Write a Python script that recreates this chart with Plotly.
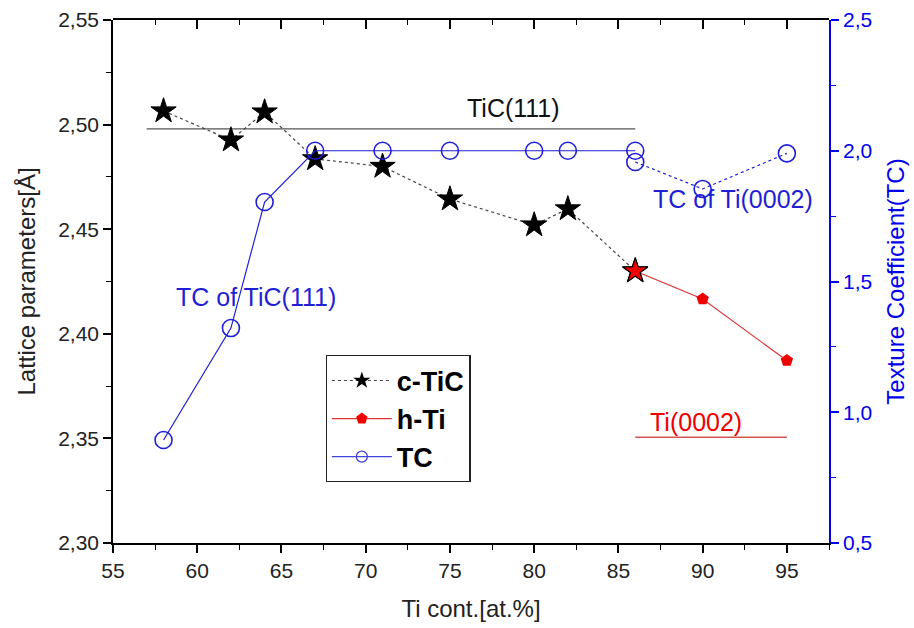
import plotly.graph_objects as go

# ---- data ----
ctic_x = [58, 62, 64, 67, 71, 75, 80, 82, 86]
ctic_y = [2.5065, 2.4926, 2.506, 2.4836, 2.480, 2.4644, 2.452, 2.4597, 2.430]

hti_x = [86, 90, 95]
hti_y = [2.430, 2.4166, 2.3872]

tc1_x = [58, 62, 64, 67, 71, 75, 80, 82, 86]
tc1_y = [0.894, 1.322, 1.804, 2.0, 2.0, 2.0, 2.0, 2.0, 2.0]

tc2_x = [86, 90, 95]
tc2_y = [1.957, 1.854, 1.99]

tic111_x = [57, 86]
tic111_y = [2.498, 2.498]
ti0002_x = [86, 95]
ti0002_y = [2.3505, 2.3505]

x_ticks = [55, 60, 65, 70, 75, 80, 85, 90, 95]

FONT = "Liberation Sans, Arial, sans-serif"
BLUE = "#1f1fd6"
AXBLUE = "#0000ee"
RED = "#ee0000"

fig = go.Figure()

# invisible traces to activate the top-axis subplots (major and minor top ticks)
fig.add_trace(go.Scatter(x=[55, 97.5], y=[0, 1], xaxis="x3", yaxis="y3", mode="markers",
                         marker=dict(opacity=0), showlegend=False, hoverinfo="skip"))
fig.add_trace(go.Scatter(x=[55, 97.5], y=[0, 1], xaxis="x4", yaxis="y4", mode="markers",
                         marker=dict(opacity=0), showlegend=False, hoverinfo="skip"))

fig.add_trace(go.Scatter(x=tic111_x, y=tic111_y, mode="lines",
                         line=dict(color="#555555", width=1.2), showlegend=False, hoverinfo="skip"))
fig.add_trace(go.Scatter(x=ti0002_x, y=ti0002_y, mode="lines",
                         line=dict(color="#d9534f", width=1.5), showlegend=False, hoverinfo="skip"))

fig.add_trace(go.Scatter(x=tc2_x, y=tc2_y, yaxis="y2", mode="lines+markers",
                         line=dict(color=BLUE, width=1.2, dash="dot"),
                         marker=dict(symbol="circle-open", size=17, color=BLUE, line=dict(width=1.6)),
                         showlegend=False))

fig.add_trace(go.Scatter(x=ctic_x, y=ctic_y, mode="lines+markers", name="c-TiC", showlegend=False,
                         line=dict(color="#444444", width=1.2, dash="dot"),
                         marker=dict(symbol="star", size=19,
                                     color=["black"] * (len(ctic_x) - 1) + [RED],
                                     line=dict(color="black", width=1))))
fig.add_trace(go.Scatter(x=hti_x, y=hti_y, mode="lines+markers", name="h-Ti", showlegend=False,
                         line=dict(color="#dd3333", width=1.2),
                         marker=dict(symbol="pentagon", size=13, color=RED, line=dict(width=0))))
fig.add_trace(go.Scatter(x=[ctic_x[-1]], y=[ctic_y[-1]], mode="markers", showlegend=False,
                         marker=dict(symbol="star", size=19, color=RED, line=dict(color="black", width=1.2)),
                         hoverinfo="skip"))
fig.add_trace(go.Scatter(x=tc1_x, y=tc1_y, yaxis="y2", mode="lines+markers", name="TC", showlegend=False,
                         line=dict(color=BLUE, width=1.2),
                         marker=dict(symbol="circle-open", size=17, color=BLUE, line=dict(width=1.6))))

fig.add_trace(go.Scatter(x=[None], y=[None], mode="lines+markers", name="c-TiC",
                         line=dict(color="#444444", width=1.2, dash="dot"),
                         marker=dict(symbol="star", size=13, color="black")))
fig.add_trace(go.Scatter(x=[None], y=[None], mode="lines+markers", name="h-Ti",
                         line=dict(color="#dd3333", width=1.2),
                         marker=dict(symbol="pentagon", size=12, color=RED)))
fig.add_trace(go.Scatter(x=[None], y=[None], mode="lines+markers", name="TC",
                         line=dict(color="#4444dd", width=1.2),
                         marker=dict(symbol="circle-open", size=11, color="#4444dd", line=dict(width=1.3))))

tickfont = dict(family=FONT, size=21, color="#222222")
hidden_y = dict(range=[0, 1], domain=[0, 1], showticklabels=False, showline=False,
                showgrid=False, zeroline=False, ticks="", automargin=False)

fig.update_layout(
    width=914, height=628,
    margin=dict(l=113, r=85, t=20, b=85, autoexpand=False),
    paper_bgcolor="white", plot_bgcolor="rgba(0,0,0,0)",
    separators=", ",
    font=dict(family=FONT, color="#222222"),
    xaxis=dict(range=[55, 97.5], tickvals=x_ticks, ticks="outside", ticklen=8, tickwidth=1.5,
               tickcolor="black", automargin=False,
               showline=True, linecolor="black", linewidth=1.5, showgrid=False, zeroline=False,
               tickfont=tickfont,
               minor=dict(dtick=2.5, tick0=55, ticks="outside", ticklen=5, tickwidth=1.2, tickcolor="black"),
               title=dict(text="Ti cont.[at.%]", font=dict(family=FONT, size=24, color="#222222"), standoff=19)),
    xaxis3=dict(range=[55, 97.5], tickmode="linear", tick0=55, dtick=5, ticks="inside", ticklen=9, tickwidth=1.5,
                tickcolor="black", anchor="y3", side="top", automargin=False,
                showline=True, linecolor="black", linewidth=1.5,
                showticklabels=False, showgrid=False, zeroline=False),
    xaxis4=dict(range=[55, 97.5], tickmode="linear", tick0=57.5, dtick=5, ticks="inside", ticklen=5, tickwidth=1.2,
                tickcolor="black", anchor="y4", side="top", automargin=False,
                showline=False, showticklabels=False, showgrid=False, zeroline=False),
    yaxis3=dict(anchor="x3", **hidden_y),
    yaxis4=dict(anchor="x4", **hidden_y),
    yaxis=dict(range=[2.30, 2.55], dtick=0.05, tickformat=".2f", ticks="outside", ticklen=8, tickwidth=1.5,
               tickcolor="black", automargin=False,
               showline=True, linecolor="black", linewidth=1.5, showgrid=False, zeroline=False,
               tickfont=tickfont,
               minor=dict(dtick=0.025, ticks="outside", ticklen=5, tickwidth=1.2, tickcolor="black"),
               title=dict(text="Lattice parameters[Å]", font=dict(family=FONT, size=24, color="#222222"), standoff=16)),
    yaxis2=dict(range=[0.5, 2.5], dtick=0.5, tickformat=".1f", overlaying="y", side="right",
                ticks="outside", ticklen=8, tickwidth=1.5, tickcolor=AXBLUE, automargin=False,
                showline=True, linecolor=AXBLUE, linewidth=1.8, showgrid=False, zeroline=False,
                tickfont=dict(family=FONT, size=21, color=AXBLUE),
                minor=dict(dtick=0.25, ticks="outside", ticklen=5, tickwidth=1.2, tickcolor=AXBLUE),
                title=dict(text="Texture Coefficient(TC)", font=dict(family=FONT, size=24, color=AXBLUE), standoff=16)),
    legend=dict(x=0.297, y=0.359, xanchor="left", yanchor="top",
                bgcolor="white", bordercolor="#222222", borderwidth=1.2,
                font=dict(family=FONT, size=27, color="black", weight="bold"),
                itemwidth=60, tracegroupgap=4),
    annotations=[
        dict(x=78.8, y=2.5003, xref="x", yref="y", text="TiC(111)", showarrow=False,
             font=dict(family=FONT, size=25, color="#111111"), xanchor="center", yanchor="bottom"),
        dict(x=63.5, y=2.4176, xref="x", yref="y", text="TC of TiC(111)", showarrow=False,
             font=dict(family=FONT, size=25, color=BLUE), xanchor="center", yanchor="middle"),
        dict(x=91.8, y=2.4645, xref="x", yref="y", text="TC of Ti(0002)", showarrow=False,
             font=dict(family=FONT, size=25, color=BLUE), xanchor="center", yanchor="middle"),
        dict(x=89.6, y=2.3578, xref="x", yref="y", text="Ti(0002)", showarrow=False,
             font=dict(family=FONT, size=25, color=RED), xanchor="center", yanchor="middle"),
    ],
)

fig.write_html("out.html")
